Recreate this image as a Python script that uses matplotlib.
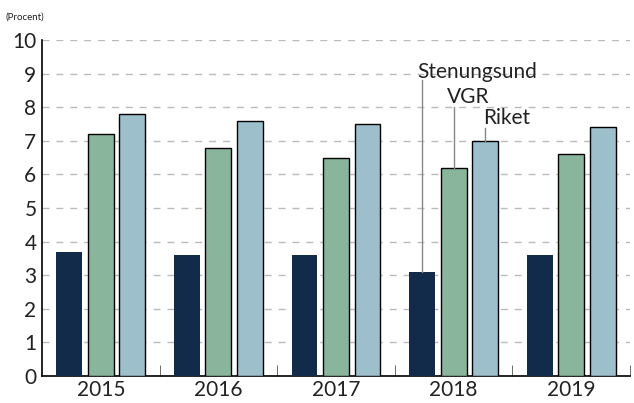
import numpy as np
import matplotlib.pyplot as plt

# data
years = ['2015', '2016', '2017', '2018', '2019']
stenungsund = [3.7, 3.6, 3.6, 3.1, 3.6]
vgr = [7.2, 6.8, 6.5, 6.2, 6.6]
riket = [7.8, 7.6, 7.5, 7.0, 7.4]
series_names = ['Stenungsund', 'VGR', 'Riket']

plt.rcParams['font.family'] = ['Lato', 'DejaVu Sans']

fig = plt.figure(figsize=(6.34, 4.03), dpi=100)
ax = fig.add_axes([42 / 634, 27 / 403, 588 / 634, 336 / 403])

x = np.arange(len(years))
w = 0.22
off = 0.268
ax.bar(x - off, stenungsund, w, color='#132b4a', zorder=3)
ax.bar(x, vgr, w, color='#88b59b', edgecolor='black', linewidth=1, zorder=3)
ax.bar(x + off, riket, w, color='#9dbfcc', edgecolor='black', linewidth=1, zorder=3)

ax.set_xlim(-0.5, 4.5)
ax.set_ylim(0, 10)
ax.set_yticks(range(0, 11))
ax.set_xticks(x)
ax.set_xticklabels(years)
ax.set_xticks(np.arange(0.5, 5, 1), minor=True)
ax.tick_params(axis='x', which='major', length=0, labelsize=15, pad=3, labelcolor='#222222')
ax.tick_params(axis='x', which='minor', direction='in', length=8, color='#555555')
ax.tick_params(axis='y', length=0, labelsize=15, pad=4, labelcolor='#222222')

ax.grid(axis='y', linestyle=(0, (5, 5)), color='#bbbbbb', linewidth=1, zorder=0)
for s in ['top', 'right']:
    ax.spines[s].set_visible(False)
ax.spines['left'].set_linewidth(1.2)
ax.spines['bottom'].set_linewidth(1.2)

# labels for the 2018 group
i = 3
bars = [(i - off, stenungsund[i]), (i, vgr[i]), (i + off, riket[i])]
labels = [(3.2, 9.05, 8.8), (3.12, 8.3, 8.0), (3.45, 7.68, 7.38)]
for (bx, by), (tx, ty, top), name in zip(bars, labels, series_names):
    ax.plot([bx, bx], [by, top], color='#888888', linewidth=1, zorder=4)
    ax.text(tx, ty, name, ha='center', va='center', fontsize=15, color='#222222', zorder=5)

fig.text(5 / 634, 1 - 17 / 403, '(Procent)', fontsize=7, va='center', ha='left', color='#222222')

fig.savefig('out.png', dpi=100)
